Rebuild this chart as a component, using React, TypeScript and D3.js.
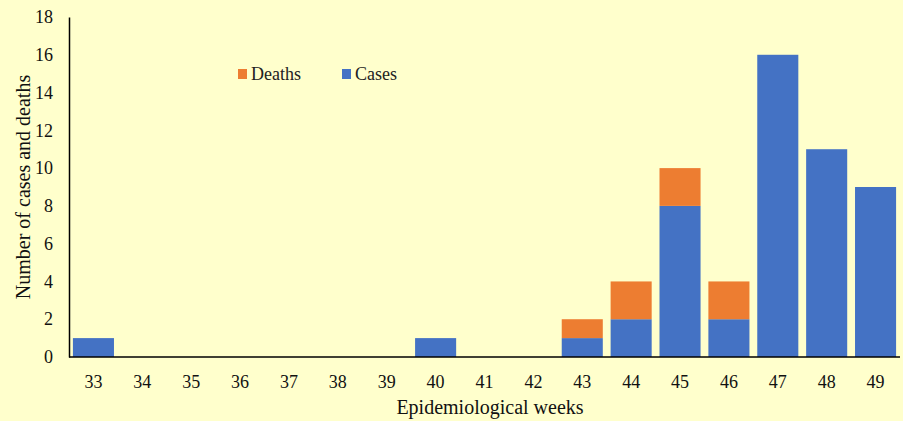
import React, { useEffect, useRef } from "react";
import * as d3 from "d3";

const weeks = ["33", "34", "35", "36", "37", "38", "39", "40", "41", "42", "43", "44", "45", "46", "47", "48", "49"];
const cases = [1, 0, 0, 0, 0, 0, 0, 1, 0, 0, 1, 2, 8, 2, 16, 11, 9];
const deaths = [0, 0, 0, 0, 0, 0, 0, 0, 0, 0, 1, 2, 2, 2, 0, 0, 0];
const yTicks = [0, 2, 4, 6, 8, 10, 12, 14, 16, 18];

export default function App() {
  const svgRef = useRef<SVGSVGElement>(null);

  useEffect(() => {
    const width = 903;
    const height = 421;
    const margin = { top: 17, right: 3, bottom: 64, left: 69 };
    const font = "'Liberation Serif', 'Times New Roman', serif";

    const svg = d3.select(svgRef.current);
    svg.selectAll("*").remove();
    svg.attr("width", width).attr("height", height).style("font-family", font);

    svg.append("rect").attr("width", width).attr("height", height).attr("fill", "#FFFFCC");

    const x = d3
      .scaleBand()
      .domain(weeks)
      .range([margin.left, width - margin.right])
      .paddingInner(0.16)
      .paddingOuter(0.08);
    const y = d3
      .scaleLinear()
      .domain([0, 18])
      .range([height - margin.bottom, margin.top]);

    const rows = weeks.map((w, i) => ({ week: w, cases: cases[i], deaths: deaths[i] }));
    const stack = d3.stack<any>().keys(["cases", "deaths"])(rows);
    const colors: Record<string, string> = { cases: "#4472C4", deaths: "#ED7D31" };

    // stacked bars
    stack.forEach((layer) => {
      svg
        .append("g")
        .attr("fill", colors[layer.key])
        .selectAll("rect")
        .data(layer.filter((d) => d[1] - d[0] > 0))
        .join("rect")
        .attr("x", (d) => x(d.data.week)!)
        .attr("y", (d) => y(d[1]))
        .attr("width", x.bandwidth())
        .attr("height", (d) => y(d[0]) - y(d[1]));
    });

    // x axis
    const xAxis = svg
      .append("g")
      .attr("transform", `translate(0,${y(0)})`)
      .call(d3.axisBottom(x).tickSize(0).tickPadding(18));
    xAxis.attr("font-family", null).attr("font-size", null);
    xAxis.select(".domain").attr("stroke", "#000").attr("stroke-width", 1.5).attr("d", `M${margin.left},0H${width - margin.right}`);
    xAxis.selectAll("text").style("font-family", font).style("font-size", "18px").attr("fill", "#111");

    // y axis
    const yAxis = svg
      .append("g")
      .attr("transform", `translate(${margin.left},0)`)
      .call(d3.axisLeft(y).tickValues(yTicks).tickSize(0).tickPadding(16));
    yAxis.attr("font-family", null).attr("font-size", null);
    yAxis.select(".domain").attr("stroke", "#000").attr("stroke-width", 1.5);
    yAxis.selectAll("text").style("font-family", font).style("font-size", "18px").attr("fill", "#111");

    svg
      .append("text")
      .attr("x", 490)
      .attr("y", 414)
      .attr("text-anchor", "middle")
      .style("font-size", "20px")
      .attr("fill", "#111")
      .text("Epidemiological weeks");

    svg
      .append("text")
      .attr("transform", "rotate(-90)")
      .attr("x", -y(9))
      .attr("y", 30)
      .attr("text-anchor", "middle")
      .style("font-size", "20px")
      .attr("fill", "#111")
      .text("Number of cases and deaths");

    // legend
    const legendItems = [
      { label: "Deaths", color: colors.deaths, x: 238 },
      { label: "Cases", color: colors.cases, x: 342 },
    ];
    const legend = svg.append("g");
    legendItems.forEach((item) => {
      legend
        .append("rect")
        .attr("x", item.x)
        .attr("y", 69)
        .attr("width", 9)
        .attr("height", 10)
        .attr("fill", item.color);
      legend
        .append("text")
        .attr("x", item.x + 13)
        .attr("y", 80)
        .style("font-size", "18px")
        .attr("fill", "#222")
        .text(item.label);
    });
  }, []);

  return (
    <div style={{ position: "absolute", left: 0, top: 0 }}>
      <svg ref={svgRef}></svg>
    </div>
  );
}
